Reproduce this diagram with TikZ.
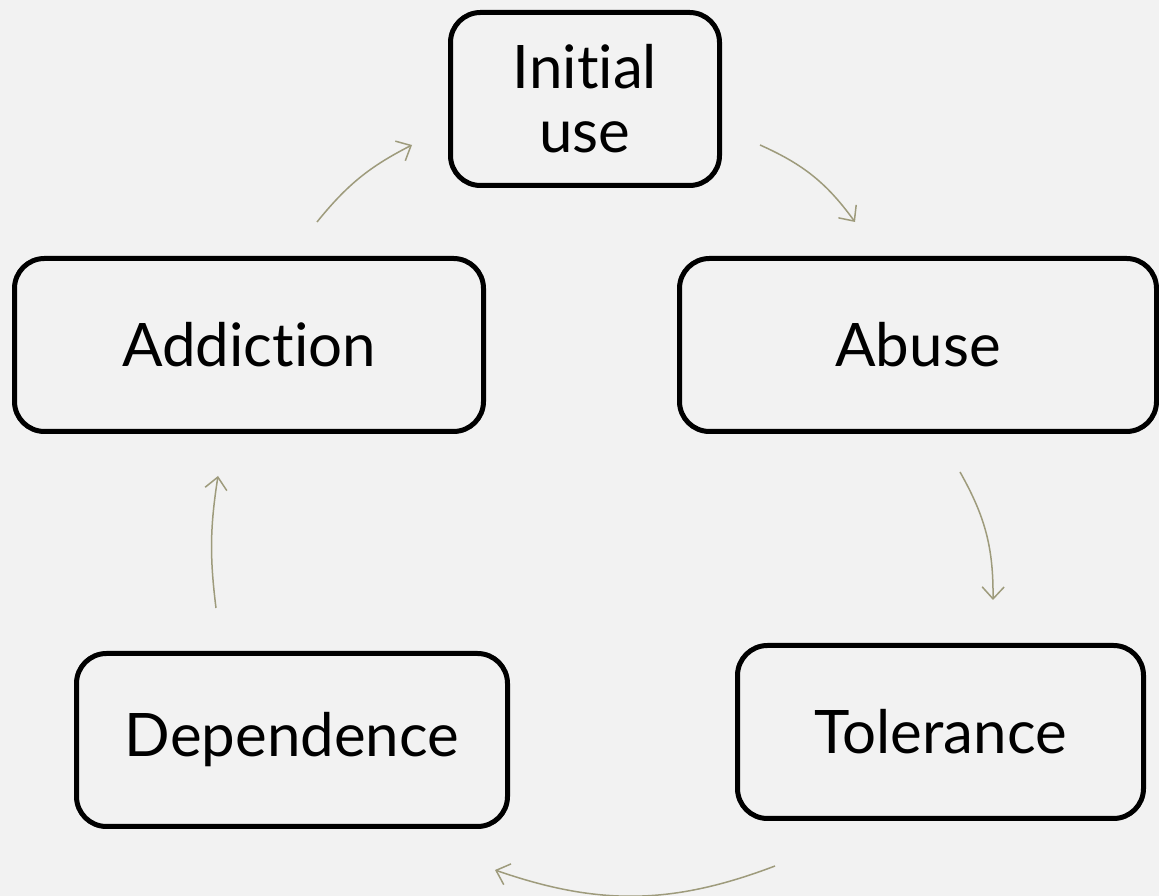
\documentclass[tikz,border=0pt]{standalone}
\usepackage{fontspec}
\setmainfont{Lato}[Ligatures={NoCommon}]
\usepackage{tikz}
\usetikzlibrary{arrows.meta, calc}

\definecolor{bgcol}{HTML}{F2F2F2}
\definecolor{arrcol}{HTML}{9E9B7C}

\begin{document}
\begin{tikzpicture}[x=1pt, y=1pt,
    stage/.style={draw=black, line width=5pt, rounded corners=30pt, fill=bgcol,
        minimum height=173pt, inner sep=0pt, align=center,
        font=\fontsize{60}{64}\selectfont},
    cyc/.style={draw=arrcol, line width=1.5pt, -{Straight Barb[length=12pt, width=22pt]}}]

% background
\fill[bgcol] (0,0) rectangle (1159,896);
\useasboundingbox (0,0) rectangle (1159,896);

% Stages
\node[stage, minimum width=269pt] (init) at (585,797) {Initial\\use};
\node[stage, minimum width=477pt] (abuse) at (918,551) {Abuse};
\node[stage, minimum width=406pt] (toler) at (940.5,164) {Tolerance};
\node[stage, minimum width=431pt] (depend) at (292,156) {Dependence};
\node[stage, minimum width=469pt] (addict) at (249,551) {Addiction};

% Arrow ends (the arrows do not touch the boxes)
\coordinate (s1) at (760,751);
\coordinate (e1) at (855,674);
\coordinate (s2) at (960,424);
\coordinate (e2) at (993,296);
\coordinate (s3) at (775,30);
\coordinate (e3) at (495,26);
\coordinate (s4) at (216,288);
\coordinate (e4) at (218,420);
\coordinate (s5) at (317,674);
\coordinate (e5) at (412,751);

% Cycle arrows
\draw[cyc] (s1) to[bend left=15] (e1);
\draw[cyc] (s2) to[bend left=15] (e2);
\draw[cyc] (s3) to[bend left=20] (e3);
\draw[cyc] (s4) to[bend left=8] (e4);
\draw[cyc] (s5) to[bend left=12] (e5);

\end{tikzpicture}
\end{document}
